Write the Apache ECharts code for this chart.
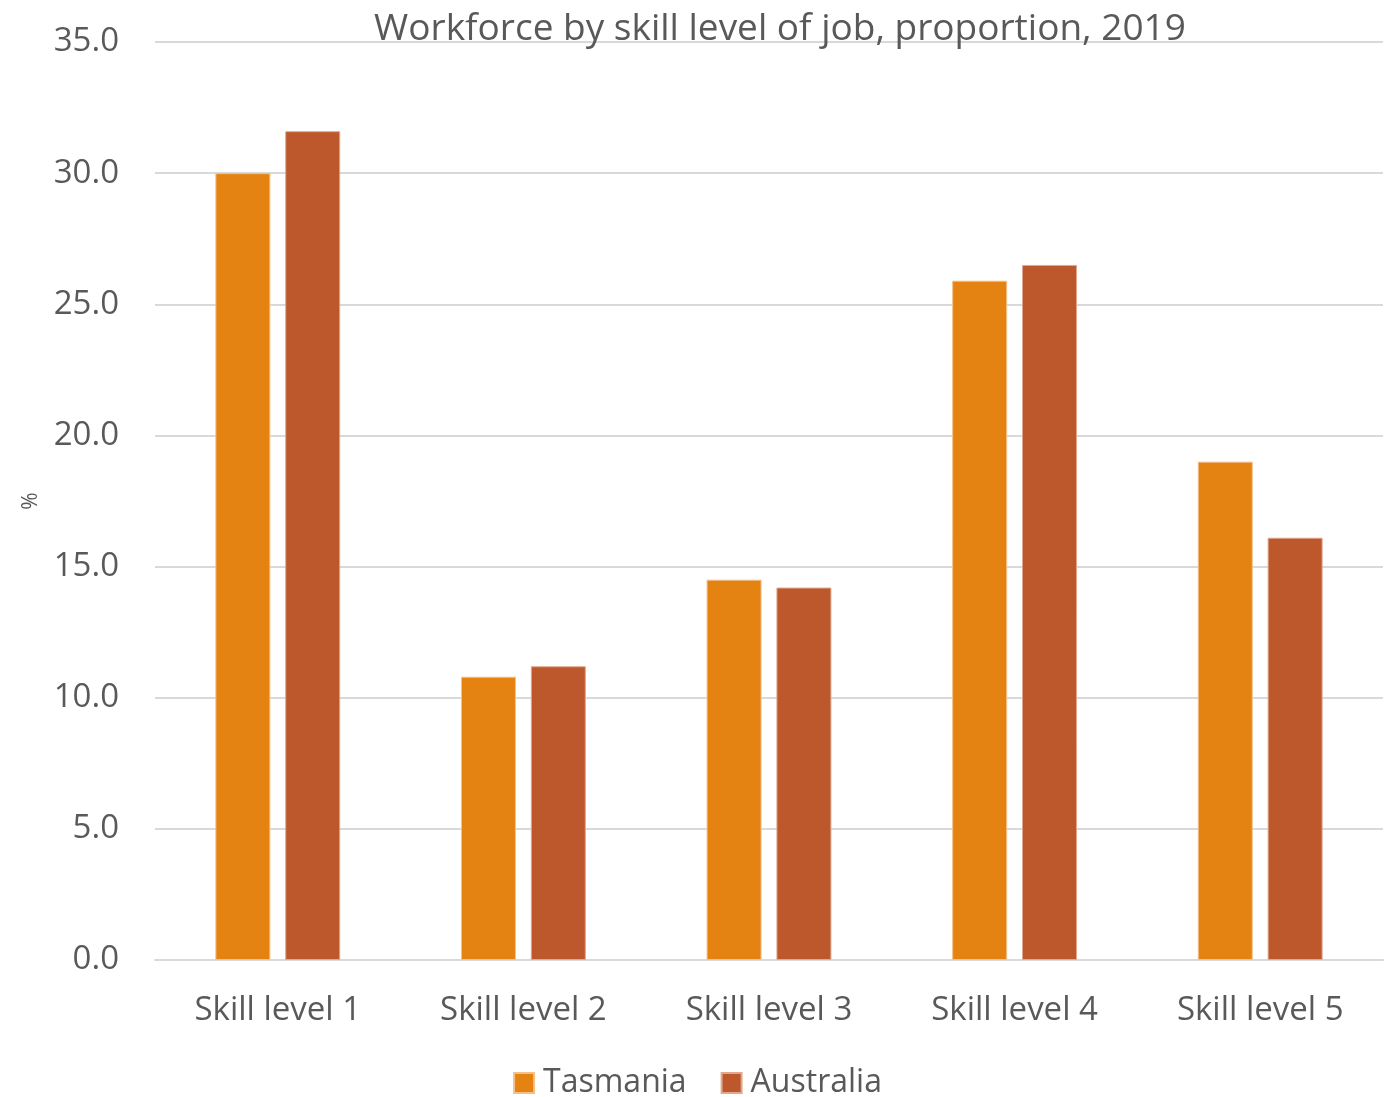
<!DOCTYPE html>
<html>
<head>
<meta charset="utf-8">
<script src="https://cdn.jsdelivr.net/npm/echarts@6/dist/echarts.min.js"></script>
<style>
  html, body { margin: 0; padding: 0; background: #fff; }
  #chart { width: 1395px; height: 1097px; }
</style>
</head>
<body>
<div id="chart"></div>
<script>
// Skill level categories and workforce share (%) per region
const categories = ['Skill level 1', 'Skill level 2', 'Skill level 3', 'Skill level 4', 'Skill level 5'];
const tasmania = [30.0, 10.8, 14.5, 25.9, 19.0];
const australia = [31.6, 11.2, 14.2, 26.5, 16.1];

const FONT = '"Open Sans", "Noto Sans", sans-serif';
const TEXT = '#595959';

const chart = echarts.init(document.getElementById('chart'), null, { renderer: 'canvas' });
chart.setOption({
  animation: false,
  backgroundColor: '#ffffff',
  textStyle: { fontFamily: FONT, color: TEXT },
  title: {
    text: 'Workforce by skill level of job, proportion, 2019',
    left: 775,
    top: 6,
    textAlign: 'center',
    textStyle: { fontFamily: FONT, fontSize: 37, fontWeight: 'normal', color: TEXT }
  },
  legend: {
    bottom: -7,
    left: 'center',
    itemWidth: 20,
    itemHeight: 20,
    itemGap: 34,
    icon: 'rect',
    textStyle: { fontFamily: FONT, fontSize: 32, color: TEXT, padding: [0, 0, 0, 4] },
    data: ['Tasmania', 'Australia']
  },
  grid: { left: 155, right: 12, top: 42, bottom: 137 },
  xAxis: {
    type: 'category',
    data: categories,
    axisLine: { lineStyle: { color: '#d9d9d9', width: 2 } },
    axisTick: { show: false },
    axisLabel: { fontFamily: FONT, fontSize: 33, color: TEXT, margin: 34 }
  },
  yAxis: {
    type: 'value',
    min: 0,
    max: 35,
    interval: 5,
    name: '%',
    nameLocation: 'middle',
    nameGap: 113,
    nameRotate: 90,
    nameTextStyle: { fontFamily: FONT, fontSize: 21, color: TEXT },
    axisLine: { show: false },
    axisTick: { show: false },
    splitLine: { lineStyle: { color: '#d9d9d9', width: 2 } },
    axisLabel: {
      fontFamily: FONT, fontSize: 33, color: TEXT, margin: 36,
      formatter: v => v.toFixed(1)
    }
  },
  series: [
    {
      name: 'Tasmania',
      type: 'bar',
      data: tasmania,
      barWidth: 55,
      barGap: '27%',
      itemStyle: { color: '#e48312', borderColor: '#f3c08a', borderWidth: 1 }
    },
    {
      name: 'Australia',
      type: 'bar',
      data: australia,
      barWidth: 55,
      itemStyle: { color: '#bd582c', borderColor: '#e0a88f', borderWidth: 1 }
    }
  ]
});
</script>
</body>
</html>
